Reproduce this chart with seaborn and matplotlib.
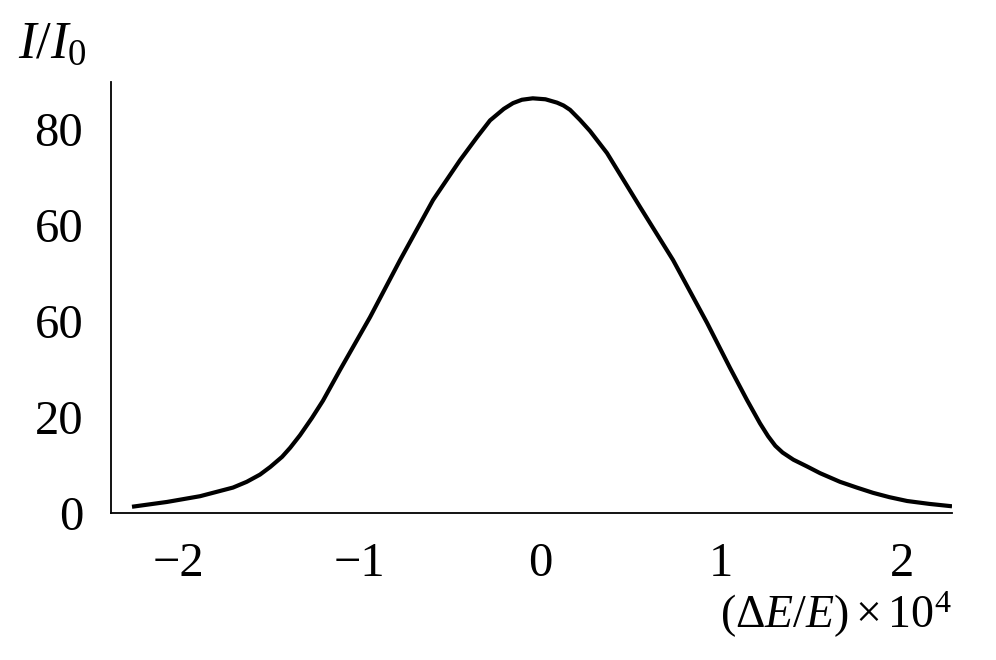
#!/usr/bin/env python3

# Energy spread profile: relative intensity vs (dE/E) x 1e4.

import numpy as np
import pandas as pd

import seaborn as sns
import matplotlib.pyplot as plt

# Curve.
de_e = [-2.254, -2.061, -1.878, -1.696, -1.620, -1.547, -1.490, -1.425,
        -1.380, -1.326, -1.260, -1.199, -1.105, -0.939, -0.773, -0.591,
        -0.442, -0.348, -0.276, -0.200, -0.149, -0.100, -0.040, 0.030,
        0.094, 0.130, 0.166, 0.221, 0.276, 0.370, 0.552, 0.735, 0.923,
        1.050, 1.144, 1.215, 1.260, 1.300, 1.340, 1.400, 1.475, 1.547,
        1.657, 1.750, 1.840, 1.930, 2.028, 2.150, 2.276]
intensity = [1.3, 2.3, 3.5, 5.3, 6.5, 8.0, 9.6, 11.7,
             13.6, 16.2, 19.8, 23.4, 29.8, 40.8, 52.7, 65.2,
             73.5, 78.3, 81.8, 84.2, 85.4, 86.1, 86.4, 86.2,
             85.5, 84.9, 84.0, 81.9, 79.6, 75.0, 63.8, 52.7, 39.6,
             30.2, 23.5, 18.7, 16.0, 14.0, 12.6, 11.1, 9.7, 8.3,
             6.5, 5.3, 4.2, 3.3, 2.5, 1.9, 1.4]

# Tick labels exactly as printed on the original figure.
x_ticks = [-2, -1, 0, 1, 2]
x_labels = ["\u22122", "\u22121", "0", "1", "2"]
y_ticks = [0, 20, 40, 60, 80]
y_labels = ["0", "20", "60", "60", "80"]

df = pd.DataFrame({"de_e": de_e, "intensity": intensity})

sns.set_style("white")
plt.rcParams['font.family'] = ['Liberation Serif', 'DejaVu Serif']
plt.rcParams['mathtext.fontset'] = 'custom'
plt.rcParams['mathtext.rm'] = 'Liberation Serif'
plt.rcParams['mathtext.it'] = 'Liberation Serif:italic'
plt.rcParams['text.color'] = 'black'
plt.rcParams['xtick.labelcolor'] = 'black'
plt.rcParams['ytick.labelcolor'] = 'black'

fig = plt.figure(figsize=(9.96, 6.6), dpi=100)
ax = fig.add_axes([111 / 996, 1 - 513 / 660, 841 / 996, 431 / 660])

sns.lineplot(data=df, x="de_e", y="intensity", ax=ax,
             color="black", linewidth=3.0,
             solid_joinstyle="round", solid_capstyle="butt")

ax.set_xlim(-2.37, 2.276)
ax.set_ylim(0, 89.8)

ax.set_xticks(x_ticks)
ax.set_xticklabels(x_labels)
ax.set_yticks(y_ticks)
ax.set_yticklabels(y_labels)

ax.set_xlabel("")
ax.set_ylabel("")

for side in ["top", "right"]:
    ax.spines[side].set_visible(False)
for side in ["left", "bottom"]:
    ax.spines[side].set_color("black")
    ax.spines[side].set_linewidth(1.3)

ax.tick_params(axis="y", direction="out", length=9, width=0.8,
               color="#d8d8d8", pad=11, labelsize=35)
ax.tick_params(axis="x", direction="out", length=4, width=0.8,
               color="#eeeeee", pad=17, labelsize=35)
# The zero tick continues the baseline in black.
ax.yaxis.get_major_ticks()[0].tick1line.set_color("black")
ax.yaxis.get_major_ticks()[0].tick1line.set_markeredgewidth(1.3)

# Axis titles sit at the corners, as in the original.
fig.text(18 / 996, 1 - 45 / 660, r"$I/I_{\mathrm{0}}$", fontsize=38,
         ha="left", va="center")
fig.text(952 / 996, 1 - 615 / 660, r"$(\Delta E/E)\times 10^4$",
         fontsize=33, ha="right", va="center")

fig.savefig("out.png", dpi=100)
